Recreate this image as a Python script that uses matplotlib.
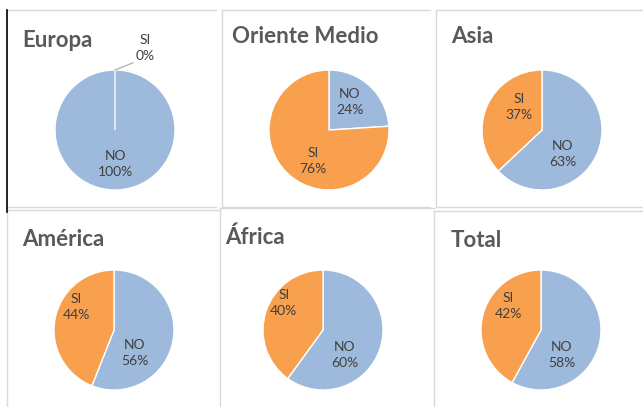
import numpy as np
import matplotlib
matplotlib.use("Agg")
import matplotlib.pyplot as plt

regions = ["Europa", "Oriente Medio", "Asia", "América", "África", "Total"]
categories = ["NO", "SI"]
no_values = [100, 24, 63, 56, 60, 58]
si_values = [0, 76, 37, 44, 40, 42]

BLUE = "#9DB9DB"
ORANGE = "#F8A04E"
TITLE_COLOR = "#595959"
LABEL_COLOR = "#404040"
BORDER = "#D9D9D9"

W, H = 643, 407
R = 60  # pie radius in pixels

# layout (pixels, y down)
centers = [(115, 130), (329, 130), (542, 130), (114, 330), (323, 330), (541, 330)]
title_pos = [(22, 47), (232, 43), (451, 43), (22, 246), (225, 244), (451, 247)]
# label placement (angle deg, fraction of radius) for NO and SI, like Excel best fit
label_place = [
    [(-90, 0.57), None],
    [(53, 0.58), (-117, 0.58)],
    [(-49, 0.53), (135, 0.54)],
    [(-48, 0.52), (149, 0.73)],
    [(-49, 0.55), (146, 0.79)],
    [(-50, 0.54), (144, 0.68)],
]

plt.rcParams['font.family'] = ['Lato', 'DejaVu Sans']

fig = plt.figure(figsize=(W / 100, H / 100), dpi=100)
bg = fig.add_axes([0, 0, 1, 1])
bg.set_xlim(0, W)
bg.set_ylim(H, 0)
bg.axis('off')

# panel borders
seg = [
    ((7, 216), (10, 10)), ((222, 430), (10, 10)), ((436, 643), (10, 10)),
    ((7, 216), (207, 207)), ((222, 222), (10, 207)), ((222, 430), (207, 207)),
    ((436, 436), (10, 207)), ((436, 643), (207, 207)),
    ((7, 220), (210, 210)), ((220, 434), (208, 208)), ((434, 643), (211, 211)),
    ((7, 7), (212, 407)), ((220, 220), (208, 407)), ((434, 434), (211, 407)),
]
for xs, ys in seg:
    bg.plot(xs, ys, color=BORDER, lw=1)
bg.plot([7, 7], [10, 212], color="black", lw=1.2)

for i, name in enumerate(regions):
    cx, cy = centers[i]
    ax = fig.add_axes([(cx - R) / W, 1 - (cy + R) / H, 2 * R / W, 2 * R / H])
    vals = [no_values[i], si_values[i]]
    ax.pie(vals, colors=[BLUE, ORANGE], startangle=90, counterclock=False,
           radius=1, wedgeprops=dict(edgecolor="white", linewidth=1))
    ax.set_xlim(-1, 1)
    ax.set_ylim(-1, 1)
    ax.axis('off')
    for j, cat in enumerate(categories):
        place = label_place[i][j]
        txt = f"{cat}\n{vals[j]}%"
        if place is None:
            # zero slice: label outside with leader line
            ax.plot([0, 0.3], [1.0, 1.12], color="#A6A6A6", lw=0.8, clip_on=False)
            ax.text(0.5, 1.37, txt, ha="center", va="center", fontsize=10,
                    color=LABEL_COLOR, linespacing=1.4, clip_on=False)
            continue
        ang, d = place
        x = d * np.cos(np.radians(ang))
        y = d * np.sin(np.radians(ang))
        ax.text(x, y, txt, ha="center", va="center", fontsize=10,
                color=LABEL_COLOR, linespacing=1.4)
    tx, ty = title_pos[i]
    bg.text(tx, ty, name, ha="left", va="baseline", fontsize=16,
            fontweight="bold", color=TITLE_COLOR)

fig.savefig("out.png", dpi=100, facecolor="white")
